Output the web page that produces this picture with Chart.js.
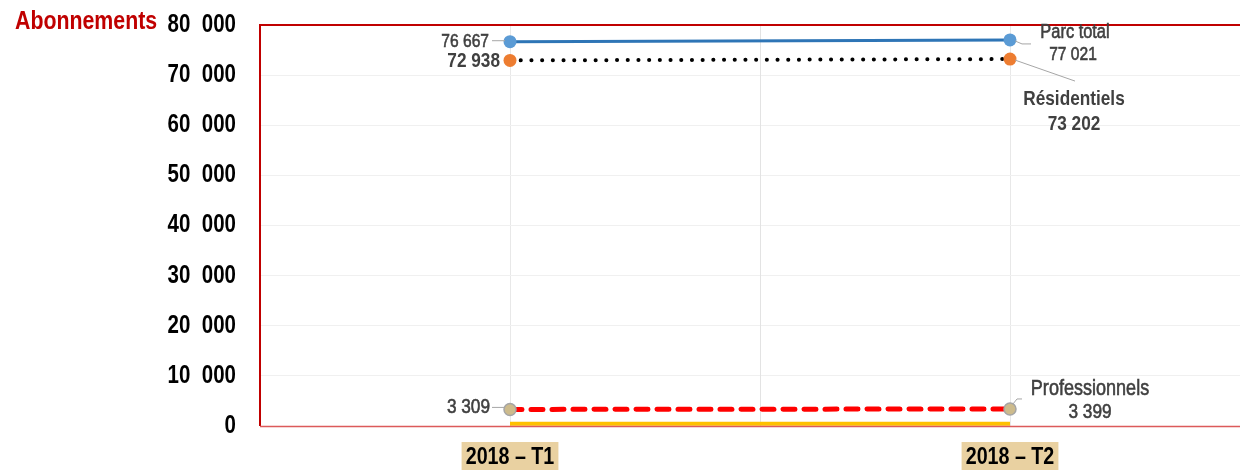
<!DOCTYPE html>
<html><head><meta charset="utf-8">
<script src="https://cdn.jsdelivr.net/npm/chart.js@4"></script>
<style>html,body{margin:0;padding:0;background:#fff}#w{width:1240px;height:470px;position:relative}</style>
</head><body><div id="w"><canvas id="c" width="1240" height="470"></canvas></div>
<script>
const categories = ["2018 – T1", "2018 – T2"];
const parcTotal = [76667, 77021];
const residentiels = [72938, 73202];
const professionnels = [3309, 3399];
const autres = [450, 450];
const yTicks = [0, 10000, 20000, 30000, 40000, 50000, 60000, 70000, 80000];
const xTicks = [0, 1];
const fmt = v => String(v).replace(/\B(?=(\d{3})+(?!\d))/g, ' ');
const FONT = "'Liberation Sans', Arial, sans-serif";
const K = 0.82; // horizontal condensing to mimic a narrow typeface

function narrowLabels(scale) {
  if (scale._narrow) return;
  scale._narrow = true;
  const orig = scale.drawLabels;
  scale.drawLabels = function (area) {
    const ctx = this.ctx;
    const ft = ctx.fillText, fr = ctx.fillRect;
    ctx.fillText = function (t, x, y, m) { this.save(); this.scale(K, 1); ft.call(this, t, x, y); this.restore(); };
    ctx.fillRect = function (x, y, w, h) { this.save(); this.scale(K, 1); fr.call(this, x, y, w, h); this.restore(); };
    try { orig.call(this, area); } finally { delete ctx.fillText; delete ctx.fillRect; }
  };
}

function txt(ctx, t, x, y, align, size, bold, color, stroke) {
  ctx.save();
  ctx.font = (bold ? 'bold ' : '') + size + 'px ' + FONT;
  ctx.fillStyle = color; ctx.textAlign = align; ctx.textBaseline = 'middle';
  ctx.translate(x, y); ctx.scale(K, 1); ctx.fillText(t, 0, 0);
  if (stroke) { ctx.strokeStyle = color; ctx.lineWidth = stroke; ctx.strokeText(t, 0, 0); }
  ctx.restore();
}

const decor = {
  id: 'decor',
  beforeDatasetsDraw(chart) {
    const {ctx, chartArea: a, scales: {x}} = chart;
    ctx.save();
    ctx.strokeStyle = '#E3E3E3'; ctx.lineWidth = 1;
    const px = Math.round(x.getPixelForValue(0.5)) + 0.5;
    ctx.beginPath(); ctx.moveTo(px, a.top); ctx.lineTo(px, a.bottom); ctx.stroke();
    ctx.restore();
  },
  afterDraw(chart) {
    const {ctx, chartArea: a, scales: {x, y}} = chart;
    ctx.save();
    ctx.strokeStyle = '#C00000'; ctx.lineWidth = 2;
    ctx.beginPath(); ctx.moveTo(a.left, a.bottom); ctx.lineTo(a.left, a.top); ctx.lineTo(a.right, a.top); ctx.stroke();
    ctx.strokeStyle = '#DC5A5A'; ctx.lineWidth = 1.5;
    ctx.beginPath(); ctx.moveTo(a.left, a.bottom + 0.5); ctx.lineTo(a.right, a.bottom + 0.5); ctx.stroke();
    txt(ctx, 'Abonnements', 15, 22, 'left', 26, true, '#C00000');
    const line = pts => { ctx.strokeStyle = '#A6A6A6'; ctx.lineWidth = 1; ctx.beginPath(); ctx.moveTo(pts[0][0], pts[0][1]); for (let i = 1; i < pts.length; i++) ctx.lineTo(pts[i][0], pts[i][1]); ctx.stroke(); };
    const G = '#404040';
    const x0 = x.getPixelForValue(0), x1 = x.getPixelForValue(1);
    const S = 0.6;
    let py = y.getPixelForValue(parcTotal[0]);
    line([[x0 - 18, py - 1], [x0 - 5, py - 1]]);
    txt(ctx, fmt(parcTotal[0]), x0 - 21, py, 'right', 19, false, G, S);
    py = y.getPixelForValue(residentiels[0]);
    txt(ctx, fmt(residentiels[0]), x0 - 10, py + 1, 'right', 21, true, G);
    py = y.getPixelForValue(professionnels[0]);
    line([[x0 - 18, py - 2], [x0 - 5, py - 2]]);
    txt(ctx, fmt(professionnels[0]), x0 - 20, py - 2, 'right', 21, false, G, S);
    py = y.getPixelForValue(parcTotal[1]);
    line([[x1 + 5, py + 1], [x1 + 12, py + 4], [x1 + 21, py + 4]]);
    txt(ctx, 'Parc total', x1 + 65, py - 7, 'center', 20, false, G, S);
    txt(ctx, fmt(parcTotal[1]), x1 + 63, py + 15, 'center', 19, false, G, S);
    py = y.getPixelForValue(residentiels[1]);
    line([[x1 + 5, py + 1], [x1 + 65, py + 22]]);
    txt(ctx, 'Résidentiels', x1 + 64, py + 40, 'center', 21, true, G);
    txt(ctx, fmt(residentiels[1]), x1 + 64, py + 65, 'center', 21, true, G);
    py = y.getPixelForValue(professionnels[1]);
    line([[x1 + 3, py - 5], [x1 + 7, py - 10], [x1 + 12, py - 10]]);
    txt(ctx, 'Professionnels', x1 + 80, py - 20, 'center', 22, false, G, S);
    txt(ctx, fmt(professionnels[1]), x1 + 80, py + 3, 'center', 21, false, G, S);
    ctx.restore();
  }
};

new Chart(document.getElementById('c'), {
  type: 'line',
  data: {
    datasets: [
      {label: 'Autres', data: autres.map((v, i) => ({x: i, y: v})), borderColor: '#FFC000', borderWidth: 4, pointRadius: 0, order: 4},
      {label: 'Professionnels', data: professionnels.map((v, i) => ({x: i, y: v})), borderColor: '#FF0000', borderWidth: 5, borderDash: [12, 9], borderCapStyle: 'round',
        pointRadius: 6, pointBackgroundColor: '#CDBB8C', pointBorderColor: '#A5A5A5', pointBorderWidth: 1.5, order: 3},
      {label: 'Résidentiels', data: residentiels.map((v, i) => ({x: i, y: v})), borderColor: '#000000', borderWidth: 4, borderDash: [0.1, 10.6], borderCapStyle: 'round',
        pointRadius: 6.5, pointBackgroundColor: '#ED7D31', pointBorderColor: '#ED7D31', pointBorderWidth: 0, order: 2},
      {label: 'Parc total', data: parcTotal.map((v, i) => ({x: i, y: v})), borderColor: '#2E75B6', borderWidth: 3,
        pointRadius: 6.5, pointBackgroundColor: '#5B9BD5', pointBorderColor: '#5B9BD5', pointBorderWidth: 0, order: 1}
    ]
  },
  options: {
    responsive: false, animation: false, clip: false,
    layout: {autoPadding: false, padding: {left: 0, right: 0, top: 25, bottom: 0}},
    plugins: {legend: {display: false}, tooltip: {enabled: false}},
    scales: {
      x: {
        type: 'linear', min: -0.5, max: 1.46,
        afterBuildTicks: s => { s.ticks = xTicks.map(v => ({value: v})); },
        afterFit: s => { s.height = 44; s.paddingLeft = 0; s.paddingRight = 0; },
        afterUpdate: narrowLabels,
        grid: {color: '#E8E8E8', drawTicks: false},
        border: {display: false},
        ticks: {
          padding: 17, autoSkip: false, maxRotation: 0,
          callback: v => categories[v],
          color: '#000', font: {family: FONT, size: 24, weight: 'bold'},
          showLabelBackdrop: true, backdropColor: '#E9D1A1', backdropPadding: {top: 1, bottom: 3, left: 5, right: 5}
        }
      },
      y: {
        min: 0, max: 80000,
        afterBuildTicks: s => { s.ticks = yTicks.map(v => ({value: v})); },
        afterFit: s => { s.width = 260; s.paddingTop = 0; s.paddingBottom = 0; },
        afterUpdate: narrowLabels,
        grid: {color: '#F0F0F0', drawTicks: false},
        border: {display: false},
        ticks: {
          padding: 24, color: '#000', font: {family: FONT, size: 25, weight: 'bold'},
          callback: v => (v === 0 ? '0' : (v / 1000) + '  000')
        }
      }
    }
  },
  plugins: [decor]
});
</script></body></html>
